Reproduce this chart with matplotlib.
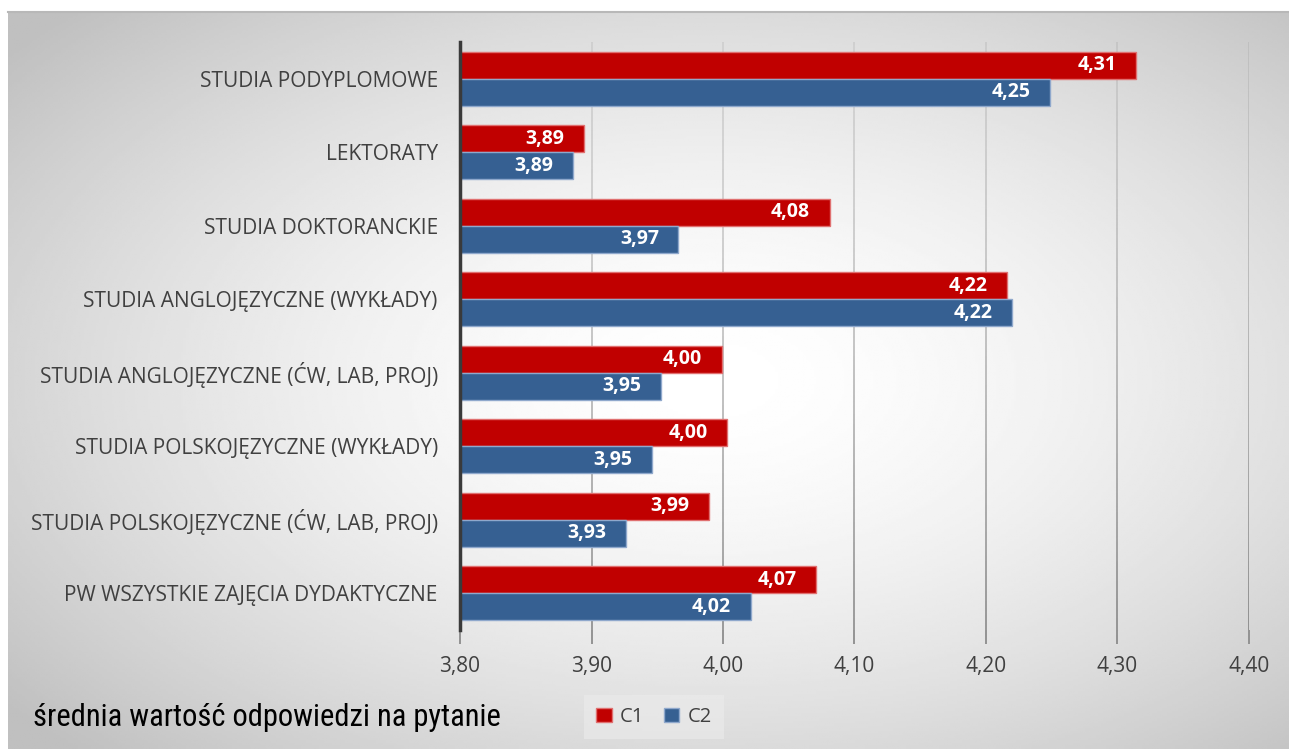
import numpy as np
import matplotlib.pyplot as plt
from matplotlib.patches import Patch
from matplotlib.collections import LineCollection

categories = ['STUDIA PODYPLOMOWE', 'LEKTORATY', 'STUDIA DOKTORANCKIE',
              'STUDIA ANGLOJĘZYCZNE (WYKŁADY)', 'STUDIA ANGLOJĘZYCZNE (ĆW, LAB, PROJ)',
              'STUDIA POLSKOJĘZYCZNE (WYKŁADY)', 'STUDIA POLSKOJĘZYCZNE (ĆW, LAB, PROJ)',
              'PW WSZYSTKIE ZAJĘCIA DYDAKTYCZNE']
c1 = [4.314, 3.894, 4.081, 4.216, 3.999, 4.003, 3.989, 4.071]
c2 = [4.249, 3.886, 3.966, 4.220, 3.953, 3.946, 3.926, 4.021]
xticks = [3.80, 3.90, 4.00, 4.10, 4.20, 4.30, 4.40]

RED = '#c00000'
BLUE = '#366092'
TXT = '#404040'

fig = plt.figure(figsize=(12.89, 7.49), dpi=100)

# gradient background
bg = fig.add_axes([8 / 1289, 0, 1 - 8 / 1289, 1 - 12 / 749], zorder=-10)
yy, xx = np.mgrid[0:1:300j, 0:1:500j]
r = np.sqrt(((xx - 0.55) / 0.75) ** 2 + ((yy - 0.5) / 0.75) ** 2)
shade = 1.0 - 0.25 * np.clip(r / 0.95, 0, 1) ** 1.6
bg.imshow(shade, cmap='gray', vmin=0, vmax=1, aspect='auto', extent=[0, 1, 0, 1])
bg.set_axis_off()
fig.add_artist(plt.Line2D([8 / 1289, 1], [1 - 12 / 749] * 2, color='#b8b8b8', lw=1.5))

ax = fig.add_axes([460 / 1289, 1 - 630 / 749, 789 / 1289, 588 / 749])
ax.patch.set_alpha(0)

y = np.arange(len(categories))
h = 0.367
ax.barh(y - h / 2, np.array(c1) - 3.8, left=3.8, height=h, color=RED,
        edgecolor='#e07070', linewidth=1, zorder=3)
ax.barh(y + h / 2, np.array(c2) - 3.8, left=3.8, height=h, color=BLUE,
        edgecolor='#8fa8cc', linewidth=1, zorder=3)

for i in range(len(categories)):
    for v, yo in ((c1[i], -h / 2), (c2[i], h / 2)):
        ax.annotate(f'{v:.2f}'.replace('.', ','), (v, i + yo), xytext=(-14, 0),
                    textcoords='offset points', ha='right', va='center',
                    color='white', fontsize=14, fontweight='bold',
                    family='Open Sans', zorder=4)

# gridlines getting darker towards the bottom
n = 60
ys = np.linspace(1, 0, n + 1)
for t in xticks[1:]:
    segs = [[(t, ys[k]), (t, ys[k + 1])] for k in range(n)]
    cols = [(0.35, 0.35, 0.35, a) for a in np.linspace(0.12, 0.6, n)]
    ax.add_collection(LineCollection(segs, colors=cols, lw=1.3,
                                     transform=ax.get_xaxis_transform(), zorder=1))

ax.set_xlim(3.8, 4.4)
ax.set_ylim(len(categories) - 0.5, -0.5)
ax.set_xticks(xticks)
ax.set_xticklabels([f'{t:.2f}'.replace('.', ',') for t in xticks],
                   fontsize=15, color=TXT, family='Open Sans')
ax.set_yticks(y)
ax.set_yticklabels(categories, fontsize=15, color=TXT, family='Open Sans')
ax.tick_params(axis='y', length=0, pad=16)
ax.tick_params(axis='x', length=10, width=1.3, color='#8c8c8c', pad=9)
for s in ('top', 'right', 'bottom'):
    ax.spines[s].set_visible(False)
ax.spines['left'].set_color('#3a3a3a')
ax.spines['left'].set_linewidth(2.5)
ax.spines['left'].set_zorder(5)

fig.text(33 / 1289, 1 - 718 / 749, 'średnia wartość odpowiedzi na pytanie',
         fontsize=22, family=['Roboto Condensed', 'Liberation Sans'],
         color='black', va='center', ha='left')

handles = [Patch(facecolor=RED, edgecolor='#e07070'), Patch(facecolor=BLUE, edgecolor='#8fa8cc')]
leg = fig.legend(handles, ['C1', 'C2'], loc='center', bbox_to_anchor=(654 / 1289, 1 - 717 / 749),
                 ncol=2, frameon=True, fancybox=False, handlelength=0.75, handleheight=0.75,
                 handletextpad=0.4, columnspacing=1.0, borderpad=0.6,
                 prop={'family': 'Open Sans', 'size': 14.5})
leg.get_frame().set_facecolor('#ececec')
leg.get_frame().set_alpha(0.6)
leg.get_frame().set_edgecolor('none')
for t in leg.get_texts():
    t.set_color(TXT)

fig.savefig('out.png', dpi=100)
